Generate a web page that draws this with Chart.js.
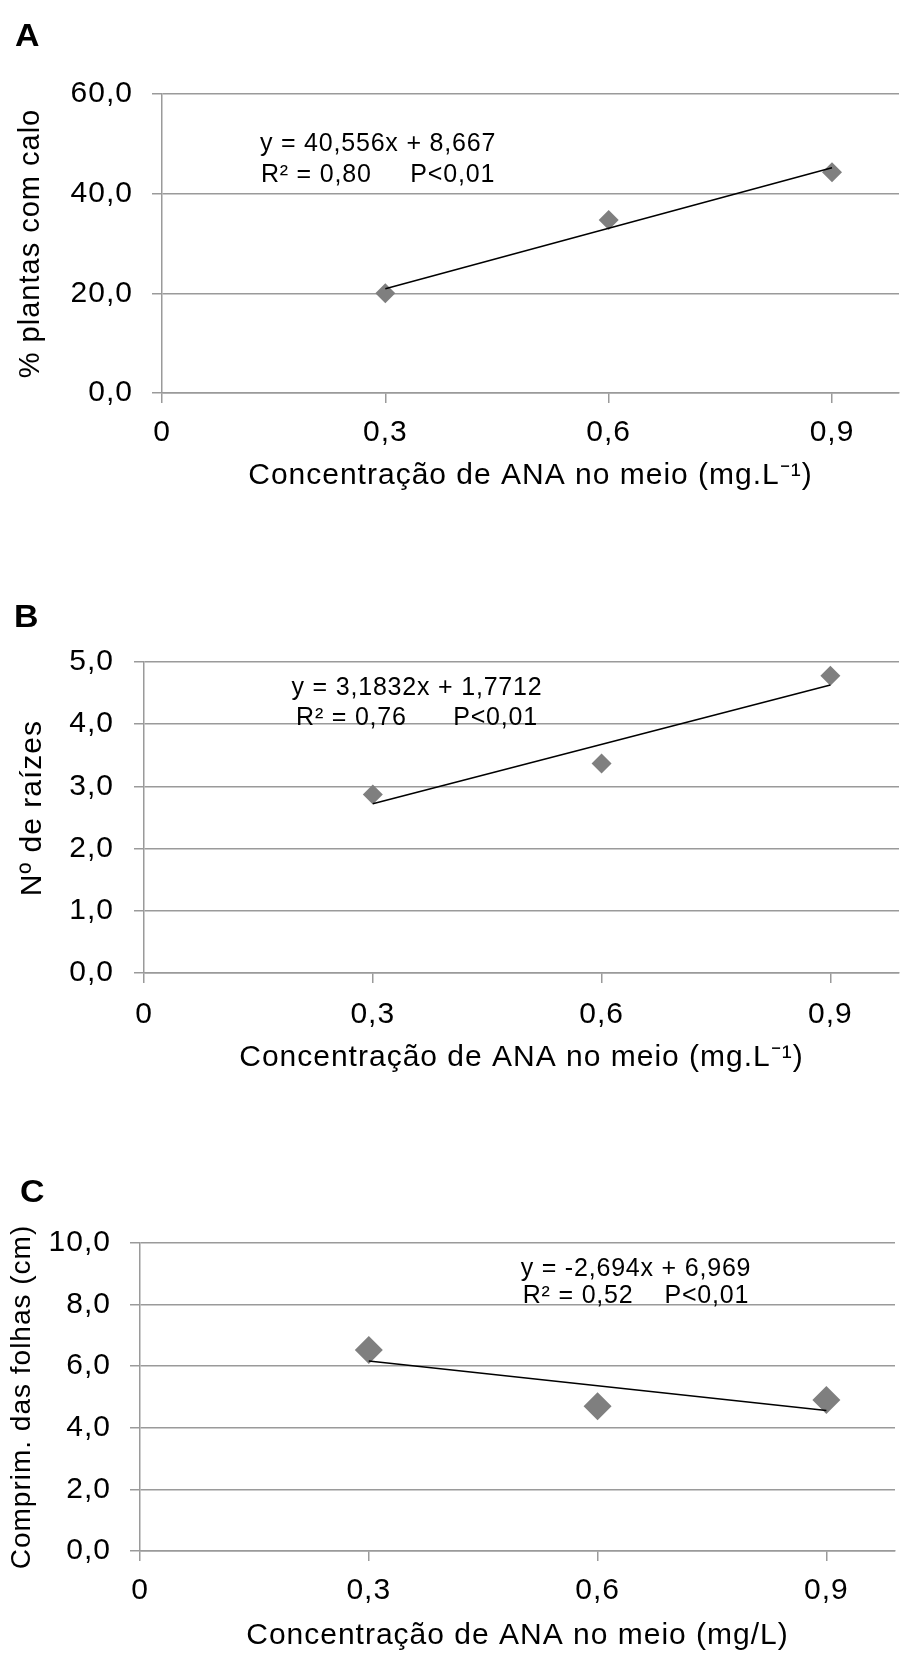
<!DOCTYPE html>
<html>
<head>
<meta charset="utf-8">
<script src="https://cdn.jsdelivr.net/npm/chart.js@4.4.1/dist/chart.umd.min.js"></script>
<style>
  body { margin: 0; background: #fff; }
  #page { position: relative; width: 909px; height: 1654px; overflow: hidden; font-family: 'Liberation Sans', Arial, sans-serif; color: #000; }
  .panel { position: absolute; left: 0; width: 909px; }
  .letter { position: absolute; font-weight: bold; font-size: 32px; line-height: 32px; transform: scaleX(1.06); transform-origin: left top; }
  .eq { position: absolute; width: 300px; font-size: 25px; letter-spacing: 0.8px; white-space: pre; text-align: center; }
</style>
</head>
<body>
<div id="page">
  <div class="panel" style="top:0;height:520px"><canvas id="chartA" width="909" height="520"></canvas></div>
  <div class="panel" style="top:580px;height:520px"><canvas id="chartB" width="909" height="520"></canvas></div>
  <div class="panel" style="top:1160px;height:494px"><canvas id="chartC" width="909" height="494"></canvas></div>

  <div class="letter" style="left:15px;top:19px">A</div>
  <div class="letter" style="left:14px;top:600px">B</div>
  <div class="letter" style="left:20px;top:1175px">C</div>

  <div class="eq" style="left:228px;top:127px;line-height:31px">y = 40,556x + 8,667<br>R² = 0,80     P&lt;0,01</div>
  <div class="eq" style="left:267px;top:671px;line-height:30px">y = 3,1832x + 1,7712<br>R² = 0,76      P&lt;0,01</div>
  <div class="eq" style="left:486px;top:1254px;line-height:27px">y = -2,694x + 6,969<br>R² = 0,52    P&lt;0,01</div>
</div>

<script>
// doses of ANA (mg/L)
const doses = [0.3, 0.6, 0.9];
const xTicks = [0, 0.3, 0.6, 0.9];
const trendX = [0.3, 0.9];

// A - % plantas com calo
const calloPct = [20.0, 34.7, 44.3];
const calloTrend = [20.9, 45.2];

// B - numero de raizes
const rootCount = [2.87, 3.37, 4.78];
const rootTrend = [2.72, 4.63];

// C - comprimento das folhas (cm)
const leafLength = [6.53, 4.70, 4.90];
const leafTrend = [6.17, 4.56];

const FONT = "'Liberation Sans', Arial, sans-serif";
const gridColor = '#9a9a9a';
const comma = (v, d) => v.toFixed(d).replace('.', ',');

// slightly wider text like the original export
const spacing = {
  id: 'spacing',
  beforeDraw(chart) { chart.ctx.letterSpacing = '1px'; }
};

function drawPanel(id, p) {
  new Chart(document.getElementById(id), {
    type: 'scatter',
    data: {
      datasets: [
        {
          data: trendX.map((x, i) => ({x: x, y: p.trend[i]})),
          showLine: true,
          borderColor: '#000',
          borderWidth: 1.5,
          pointRadius: 0,
          fill: false
        },
        {
          data: doses.map((x, i) => ({x: x, y: p.values[i]})),
          pointStyle: 'rectRot',
          pointRadius: p.marker,
          pointHoverRadius: p.marker,
          backgroundColor: '#7f7f7f',
          borderWidth: 0
        }
      ]
    },
    options: {
      responsive: false,
      animation: false,
      events: [],
      layout: {padding: {top: p.top, left: 0, right: 0, bottom: 0}},
      plugins: {legend: {display: false}, tooltip: {enabled: false}},
      scales: {
        x: {
          type: 'linear',
          min: 0,
          max: 0.99,
          afterBuildTicks(s) { s.ticks = xTicks.map(v => ({value: v})); },
          afterFit(s) { s.height = p.xBox; },
          grid: {drawOnChartArea: false, drawTicks: true, tickLength: 10, color: gridColor, lineWidth: 1.5},
          border: {display: true, color: gridColor, width: 1.5},
          ticks: {
            padding: p.xPad, maxRotation: 0, autoSkip: false, color: '#000',
            font: {family: FONT, size: 30},
            callback: v => comma(v, v === 0 ? 0 : 1)
          },
          title: {
            display: true, text: p.xTitle, color: '#000',
            font: {family: FONT, size: 30},
            padding: {top: 0, bottom: p.xTitlePad}
          }
        },
        y: {
          min: 0,
          max: p.yMax,
          afterFit(s) { s.width = p.left; },
          grid: {drawTicks: true, tickLength: 10, color: gridColor, lineWidth: 1.5},
          border: {display: true, color: gridColor, width: 1.5},
          ticks: {
            stepSize: p.yStep, padding: p.yPad, color: '#000',
            font: {family: FONT, size: 30},
            callback: v => comma(v, 1)
          },
          title: {
            display: true, text: p.yTitle, color: '#000',
            font: {family: FONT, size: p.yTitleSize},
            padding: {top: p.yTitlePad, bottom: 0}
          }
        }
      }
    },
    plugins: [spacing]
  });
}

drawPanel('chartA', {
  values: calloPct, trend: calloTrend, marker: 10,
  top: 94, left: 162, xBox: 127, yMax: 60, yStep: 20,
  xPad: 12, xTitlePad: 26, yPad: 19, yTitlePad: 14, yTitleSize: 29,
  xTitle: 'Concentração de ANA no meio (mg.L⁻¹)',
  yTitle: '% plantas com calo'
});

drawPanel('chartB', {
  values: rootCount, trend: rootTrend, marker: 10,
  top: 82, left: 144, xBox: 127, yMax: 5, yStep: 1,
  xPad: 14, xTitlePad: 24, yPad: 20, yTitlePad: 15, yTitleSize: 30,
  xTitle: 'Concentração de ANA no meio (mg.L⁻¹)',
  yTitle: '\u00a0\u00a0Nº de raízes'
});

drawPanel('chartC', {
  values: leafLength, trend: leafTrend, marker: 14,
  top: 83, left: 140, xBox: 103, yMax: 10, yStep: 2,
  xPad: 12, xTitlePad: 0, yPad: 19, yTitlePad: 5, yTitleSize: 28,
  xTitle: 'Concentração de ANA no meio (mg/L)',
  yTitle: 'Comprim. das folhas (cm)'
});
</script>
</body>
</html>
